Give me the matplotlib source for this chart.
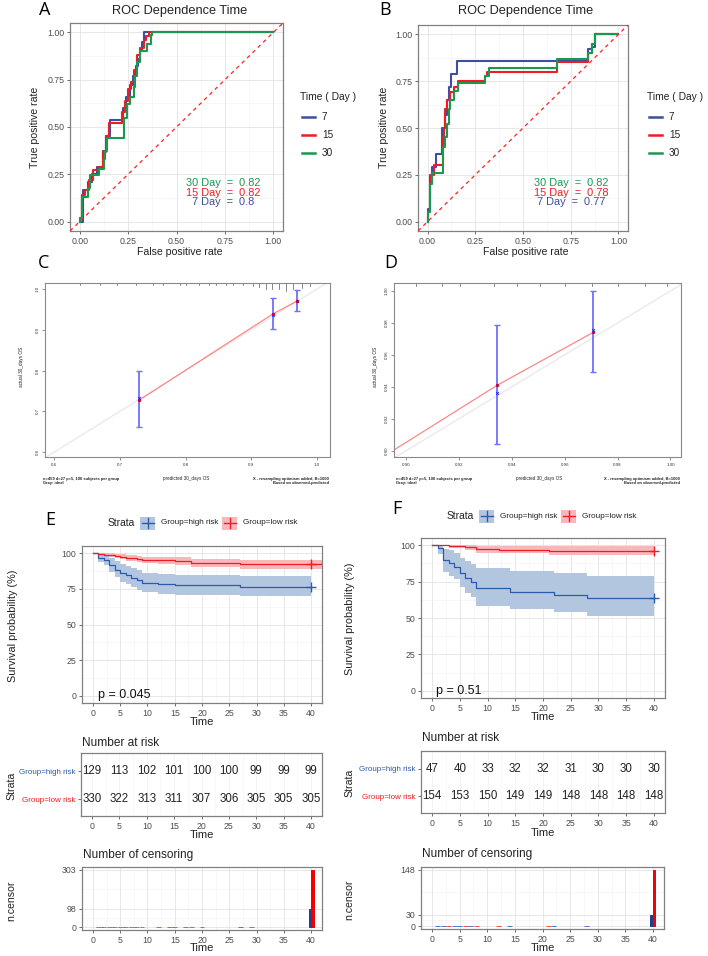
import numpy as np
import matplotlib
matplotlib.use('Agg')
import matplotlib.pyplot as plt
from matplotlib.patches import Rectangle
import matplotlib.transforms as mtrans

plt.rcParams['font.family'] = ['Liberation Sans', 'DejaVu Sans']

# ---------------- DATA ----------------
# ROC panel A (training)
A_blue_fpr = [0, 0.018, 0.045, 0.065, 0.09, 0.12, 0.138, 0.155, 0.225, 0.24, 0.26, 0.275, 0.29, 0.30, 0.31, 0.32, 0.334, 1.0]
A_blue_tpr = [0, 0.165, 0.21, 0.25, 0.29, 0.375, 0.455, 0.535, 0.60, 0.66, 0.72, 0.77, 0.82, 0.86, 0.90, 0.95, 1.0, 1.0]
A_red_fpr = [0, 0, 0.01, 0.03, 0.05, 0.07, 0.10, 0.12, 0.135, 0.15, 0.22, 0.235, 0.25, 0.265, 0.28, 0.295, 0.31, 0.33, 0.345, 0.36, 1.0]
A_red_tpr = [0, 0.02, 0.14, 0.165, 0.22, 0.27, 0.29, 0.37, 0.45, 0.52, 0.58, 0.64, 0.70, 0.74, 0.80, 0.88, 0.92, 0.96, 0.98, 1.0, 1.0]
A_green_fpr = [0, 0, 0.012, 0.041, 0.055, 0.098, 0.124, 0.133, 0.141, 0.228, 0.245, 0.262, 0.279, 0.288, 0.297, 0.314, 0.348, 0.366, 0.374, 1.0]
A_green_tpr = [0, 0.02, 0.13, 0.18, 0.245, 0.28, 0.33, 0.375, 0.44, 0.545, 0.62, 0.66, 0.71, 0.77, 0.845, 0.90, 0.94, 0.985, 1.0, 1.0]
A_auc = {'7': '0.8', '15': '0.82', '30': '0.82'}

# ROC panel B (validation)
B_blue_fpr = [0, 0, 0.015, 0.025, 0.043, 0.078, 0.09, 0.10, 0.11, 0.122, 0.153, 0.84, 0.86, 0.875, 1.0]
B_blue_tpr = [0, 0.07, 0.25, 0.29, 0.36, 0.50, 0.57, 0.65, 0.72, 0.79, 0.86, 0.92, 0.93, 1.0, 1.0]
B_red_fpr = [0, 0, 0.012, 0.02, 0.035, 0.08, 0.085, 0.09, 0.10, 0.12, 0.14, 0.16, 0.30, 0.31, 0.68, 0.84, 0.86, 0.875, 1.0]
B_red_tpr = [0, 0.05, 0.20, 0.25, 0.30, 0.45, 0.50, 0.60, 0.65, 0.69, 0.72, 0.75, 0.78, 0.80, 0.85, 0.90, 0.95, 1.0, 1.0]
B_green_fpr = [0, 0, 0.015, 0.025, 0.08, 0.09, 0.10, 0.11, 0.12, 0.14, 0.16, 0.30, 0.32, 0.68, 0.84, 0.86, 0.875, 1.0]
B_green_tpr = [0, 0.05, 0.20, 0.26, 0.40, 0.45, 0.52, 0.60, 0.65, 0.70, 0.74, 0.78, 0.82, 0.87, 0.90, 0.95, 1.0, 1.0]
B_auc = {'7': '0.77', '15': '0.78', '30': '0.82'}

roc_days = ['7', '15', '30']

# Calibration C
C_pred = [0.7288, 0.933, 0.970]
C_obs = [0.727, 0.939, 0.971]
C_corr = [0.732, 0.936, 0.972]
C_lo = [0.661, 0.902, 0.947]
C_hi = [0.800, 0.978, 0.998]
C_rug_x = [0.639, 0.67, 0.695, 0.725, 0.75, 0.766, 0.791, 0.801, 0.821, 0.836, 0.847, 0.862, 0.872,
           0.887, 0.902, 0.912, 0.922, 0.932, 0.942, 0.953, 0.963, 0.978, 0.990]
C_rug_n = [1, 1, 1, 1, 1, 1, 1, 1, 1, 1, 1, 1, 1, 1, 2, 3, 5, 5, 5, 6, 5, 4, 2]
C_xticks = [0.6, 0.7, 0.8, 0.9, 1.0]
C_yticks = [0.6, 0.7, 0.8, 0.9, 1.0]

# Calibration D
D_pred = [0.9345, 0.9707]
D_obs = [0.941, 0.974]
D_corr = [0.936, 0.9757]
D_lo = [0.904, 0.949]
D_hi = [0.979, 1.000]
D_line_x = [0.8955, 0.9345, 0.9707]
D_line_y = [0.9005, 0.941, 0.974]
D_rug_x = [0.9037, 0.9134, 0.9205, 0.9334, 0.9419, 0.9506, 0.9602, 0.9703, 0.9802, 0.9903, 0.9986]
D_rug_n = [2, 2, 2, 2, 2, 2, 2, 2, 2, 2, 2]
D_xticks = [0.90, 0.92, 0.94, 0.96, 0.98, 1.00]
D_yticks = [0.90, 0.92, 0.94, 0.96, 0.98, 1.00]

cal_left_text = "n=459 d=27 p=5, 100 subjects per group\nGray: ideal"
cal_mid_text = "predicted 30_days OS"
cal_right_text = "X - resampling optimism added, B=1000\nBased on observed-predicted"
cal_ylabel = "actual 30_days OS"

# Kaplan-Meier E
E_high_t = [0, 1, 2, 3, 4, 5, 6, 7, 8, 9, 12, 15, 27]
E_high_s = [100, 96.9, 95.3, 91.5, 88.4, 86.0, 84.5, 82.9, 81.4, 79.1, 78.3, 77.5, 76.6]
E_high_up = [100, 100, 99.5, 96.5, 94.5, 92.5, 91.0, 89.5, 88.0, 86.3, 85.7, 85.0, 84.3]
E_high_lo = [100, 93.5, 91.5, 86.5, 83.0, 80.0, 78.5, 76.5, 74.5, 72.5, 71.7, 71.0, 69.8]
E_high_end = 40
E_low_t = [0, 1, 2, 3, 4, 5, 6, 7, 8, 9, 12, 15, 18, 27]
E_low_s = [100, 99.7, 99.0, 98.5, 97.9, 97.5, 96.8, 96.3, 95.8, 95.2, 94.9, 94.3, 93.2, 92.3]
E_low_up = [100, 100, 100, 99.8, 99.5, 99.2, 98.8, 98.4, 98.0, 97.6, 97.4, 97.0, 96.2, 95.4]
E_low_lo = [100, 99.1, 98.0, 97.2, 96.3, 95.8, 94.8, 94.2, 93.6, 92.8, 92.4, 91.6, 90.3, 89.2]
E_low_end = 42
E_p = "p = 0.045"

# Kaplan-Meier F
F_high_t = [0, 1, 2, 3, 4, 5, 6, 7, 8, 14, 22, 28]
F_high_s = [100, 98.0, 89.9, 87.7, 85.4, 81.0, 77.2, 74.9, 70.3, 68.1, 65.9, 63.8]
F_high_up = [100, 100, 97.5, 96.5, 94.5, 91.5, 89.0, 87.0, 84.5, 82.5, 80.7, 79.2]
F_high_lo = [100, 94.0, 81.5, 79.0, 76.5, 71.5, 67.0, 64.5, 58.5, 56.5, 54.0, 51.6]
F_high_end = 40
F_low_t = [0, 3, 6, 8, 12, 21]
F_low_s = [100, 99.4, 98.7, 97.5, 97.0, 96.3]
F_low_up = [100, 100, 100, 99.8, 99.6, 99.2]
F_low_lo = [100, 98.2, 97.0, 95.0, 94.5, 93.3]
F_low_end = 40
F_p = "p = 0.51"

groups = ['Group=high risk', 'Group=low risk']
risk_times = [0, 5, 10, 15, 20, 25, 30, 35, 40]
E_risk_high = [129, 113, 102, 101, 100, 100, 99, 99, 99]
E_risk_low = [330, 322, 313, 311, 307, 306, 305, 305, 305]
F_risk_high = [47, 40, 33, 32, 32, 31, 30, 30, 30]
F_risk_low = [154, 153, 150, 149, 149, 148, 148, 148, 148]

E_cens_high_t = [1, 2, 3, 4, 5, 6, 7, 8, 9, 15, 27, 40]
E_cens_high_n = [1, 1, 1, 1, 1, 1, 1, 1, 1, 1, 1, 98]
E_cens_low_t = [1, 2, 3, 4, 5, 6, 7, 8, 9, 12, 14, 15, 17, 18, 20, 29, 40]
E_cens_low_n = [1, 1, 1, 1, 1, 1, 1, 1, 1, 1, 1, 1, 1, 1, 1, 1, 303]
F_cens_high_t = [1, 2, 4, 5, 7, 14, 22, 28, 40]
F_cens_high_n = [1, 1, 1, 1, 1, 1, 1, 1, 30]
F_cens_low_t = [3, 6, 8, 12, 21, 40]
F_cens_low_n = [1, 1, 1, 1, 1, 148]
E_cens_ticks = [0, 98, 303]
F_cens_ticks = [0, 30, 148]

# ---------------- STYLE ----------------
ROC_COL = {'7': '#3D4FA1', '15': '#EE1C25', '30': '#1A9850'}
KM_BLUE = '#2A5CAA'
KM_RED = '#EE1C25'
KM_BLUE_F = '#B3C6E0'
KM_RED_F = '#F8B8BA'
CENS_BLUE = '#1E3F8F'
GRAY_TXT = '#4d4d4d'

W, H = 708, 956
fig = plt.figure(figsize=(W / 100, H / 100), dpi=100)


def axpx(l, t, r, b):
    return fig.add_axes([l / W, 1 - b / H, (r - l) / W, (b - t) / H])


ov = fig.add_axes([0, 0, 1, 1], zorder=10)
ov.set_xlim(0, W)
ov.set_ylim(H, 0)
ov.axis('off')


def T(x, y, s, **kw):
    kw.setdefault('ha', 'center')
    kw.setdefault('va', 'center')
    ov.text(x, y, s, **kw)


def style_gg(ax, xmaj, ymaj, xmin=None, ymin=None, grid=True):
    ax.set_facecolor('white')
    for s in ax.spines.values():
        s.set_color('#808080')
        s.set_linewidth(0.9)
    ax.set_xticks(xmaj)
    ax.set_yticks(ymaj)
    if xmin is not None:
        ax.set_xticks(xmin, minor=True)
    if ymin is not None:
        ax.set_yticks(ymin, minor=True)
    if grid:
        ax.grid(True, which='major', color='#e3e3e3', lw=0.6)
        ax.grid(True, which='minor', color='#f1f1f1', lw=0.4)
    ax.set_axisbelow(True)
    ax.tick_params(which='major', length=2.5, width=0.6, color='#555555',
                   labelsize=6.3, labelcolor=GRAY_TXT, pad=1.5)
    ax.tick_params(which='minor', length=0)


# ---------------- ROC ----------------
def roc_panel(box, curves, auc, letter, lpos, leg_x, auc_x, ylab_x):
    ax = axpx(*box)
    for d in roc_days:
        fpr, tpr = curves[d]
        ax.step(fpr, tpr, where='post', color=ROC_COL[d], lw=1.5, zorder=3)
    ax.axline((0, 0), (1, 1), color='#FF2020', ls=(0, (3, 3)), lw=0.9, zorder=4)
    ax.set_xlim(-0.05, 1.05)
    ax.set_ylim(-0.05, 1.05)
    tk = [0, 0.25, 0.5, 0.75, 1.0]
    style_gg(ax, tk, tk, [0.125, 0.375, 0.625, 0.875], [0.125, 0.375, 0.625, 0.875])
    ax.set_xticklabels(['%.2f' % v for v in tk])
    ax.set_yticklabels(['%.2f' % v for v in tk])
    l, t, r, b = box
    cx = (l + r) / 2
    T(lpos[0], lpos[1], letter, fontsize=13, family=['Open Sans', 'DejaVu Sans'])
    T(cx + 3, 11, 'ROC Dependence Time', fontsize=9.2, color='#222222')
    T(cx + 3, 252, 'False positive rate', fontsize=7.6, color='#222222')
    T(ylab_x, 127, 'True positive rate', fontsize=7.6, rotation=90, color='#222222')
    # legend
    T(leg_x, 97, 'Time ( Day )', ha='left', fontsize=7.4, color='#222222')
    for i, d in enumerate(roc_days):
        y = 117 + 18 * i
        ov.plot([leg_x + 2, leg_x + 15], [y, y], color=ROC_COL[d], lw=1.8)
        T(leg_x + 22, y, d, ha='left', fontsize=7.2, color='#222222')
    for i, d in enumerate(['30', '15', '7']):
        T(auc_x, 183 + 9.6 * i, '%s Day  =  %s' % (d, auc[d]), fontsize=7.9, color=ROC_COL[d])


roc_panel((70, 23, 283, 231),
          {'7': (A_blue_fpr, A_blue_tpr), '15': (A_red_fpr, A_red_tpr), '30': (A_green_fpr, A_green_tpr)},
          A_auc, 'A', (45, 10), 300, 223, 35)
roc_panel((418, 25, 628, 231),
          {'7': (B_blue_fpr, B_blue_tpr), '15': (B_red_fpr, B_red_tpr), '30': (B_green_fpr, B_green_tpr)},
          B_auc, 'B', (385, 10), 647, 571, 384)


# ---------------- CALIBRATION ----------------
def cal_panel(box, xlim, ylim, pred, obs, corr, lo, hi, lx, ly, rug_x, rug_n, xt, yt, fmt,
              letter, lpos, ylab_x, txt_x):
    ax = axpx(*box)
    ax.set_xlim(*xlim)
    ax.set_ylim(*ylim)
    ax.plot([0, 1.2], [0, 1.2], color='#e6e6e6', lw=0.8, zorder=1)
    ax.plot(lx, ly, color='#FF7A7A', lw=0.8, zorder=2)
    ax.errorbar(pred, obs, yerr=[np.array(obs) - np.array(lo), np.array(hi) - np.array(obs)],
                fmt='none', ecolor='#7070FF', elinewidth=1.3, capsize=2.2, capthick=1.0, zorder=3)
    ax.plot(pred, corr, ls='none', marker='x', ms=2, mew=0.7, color='#3030FF', zorder=4)
    ax.plot(pred, obs, ls='none', marker='o', ms=1.4, color='#CC0033', zorder=5)
    axh = box[3] - box[1]
    tr = mtrans.blended_transform_factory(ax.transData, ax.transAxes)
    for v, n in zip(rug_x, rug_n):
        h = (0.4 + 1.2 * n) / axh
        ax.plot([v, v], [1, 1 - h], color='#555555', lw=0.5, transform=tr)
    for s in ax.spines.values():
        s.set_color('#8a8a8a')
        s.set_linewidth(0.8)
    ax.set_xticks(xt)
    ax.set_yticks(yt)
    ax.set_xticklabels([fmt % v for v in xt])
    ax.set_yticklabels([fmt % v for v in yt], rotation=90, va='center')
    ax.tick_params(direction='out', length=2.5, width=0.5, labelsize=3.2, pad=1.5,
                   color='#666666', labelcolor='#333333')
    l, t, r, b = box
    T(lpos[0], lpos[1], letter, fontsize=13, family=['Open Sans', 'DejaVu Sans'])
    T(ylab_x, (t + b) / 2 - 3, cal_ylabel, fontsize=3.4, rotation=90, color='#222222')
    T(txt_x[0], 481, cal_left_text, ha='left', fontsize=2.9, weight='bold', color='#222222',
      linespacing=1.1)
    T(txt_x[1], 478, cal_mid_text, fontsize=3.3, color='#222222')
    T(txt_x[2], 481, cal_right_text, ha='right', fontsize=2.9, weight='bold', color='#222222',
      linespacing=1.1, multialignment='right')


cal_panel((45, 283, 330, 457), (0.586, 1.02), (0.588, 1.015), C_pred, C_obs, C_corr, C_lo, C_hi,
          C_pred, C_obs, C_rug_x, C_rug_n, C_xticks, C_yticks, '%.1f', 'C', (44, 263), 22,
          (43, 186, 329))
cal_panel((394, 283, 681, 457), (0.8954, 1.004), (0.896, 1.005), D_pred, D_obs, D_corr, D_lo, D_hi,
          D_line_x, D_line_y, D_rug_x, D_rug_n, D_xticks, D_yticks, '%.2f', 'D', (391, 263), 376,
          (396, 539, 680))


# ---------------- KAPLAN-MEIER ----------------
def km_curve(ax, t, s, lo, up, tend, col, fcol):
    tt = list(t) + [tend]
    ax.fill_between(tt, list(lo) + [lo[-1]], list(up) + [up[-1]], step='post', color=fcol, lw=0, zorder=2)
    ax.step(tt, list(s) + [s[-1]], where='post', color=col, lw=0.9, zorder=3)
    ax.plot([40], [s[-1]], marker='+', ms=7, mew=1.0, color=col, zorder=4)


def km_panel(box, high, low, ptxt, letter, lpos, leg_y, leg_x0, ylab_x, time_y, p_x, p_y):
    ax = axpx(*box)
    km_curve(ax, *high, KM_BLUE, KM_BLUE_F)
    km_curve(ax, *low, KM_RED, KM_RED_F)
    ax.set_xlim(-2, 42)
    ax.set_ylim(-5, 105)
    style_gg(ax, risk_times, [0, 25, 50, 75, 100], np.arange(2.5, 42, 5), [12.5, 37.5, 62.5, 87.5])
    l, t, r, b = box
    T(lpos[0], lpos[1], letter, fontsize=13, family=['Open Sans', 'DejaVu Sans'])
    T(ylab_x, (t + b) / 2 + 1, 'Survival probability (%)', fontsize=7.8, rotation=90, color='#222222')
    T((l + r) / 2, time_y, 'Time', fontsize=8, color='#222222')
    T(p_x, p_y, ptxt, ha='left', fontsize=9, color='#111111')
    # legend
    x0 = leg_x0
    T(x0, leg_y, 'Strata', ha='left', fontsize=7.4, color='#222222')
    for kx, col, fcol, lab in [(x0 + 32, KM_BLUE, KM_BLUE_F, groups[0]),
                               (x0 + 114, KM_RED, KM_RED_F, groups[1])]:
        ov.add_patch(Rectangle((kx, leg_y - 6.5), 15, 13, color=fcol, lw=0))
        ov.plot([kx + 1.5, kx + 13.5], [leg_y, leg_y], color=col, lw=1.0)
        ov.plot([kx + 7.5, kx + 7.5], [leg_y - 5, leg_y + 5], color=col, lw=1.0)
        T(kx + 21, leg_y, lab, ha='left', fontsize=5.9, color='#222222')


km_panel((82, 546, 322, 703),
         (E_high_t, E_high_s, E_high_lo, E_high_up, E_high_end),
         (E_low_t, E_low_s, E_low_lo, E_low_up, E_low_end),
         E_p, 'E', (50, 520), 523, 108, 13, 722, 98, 695)
km_panel((421, 538, 665, 698),
         (F_high_t, F_high_s, F_high_lo, F_high_up, F_high_end),
         (F_low_t, F_low_s, F_low_lo, F_low_up, F_low_end),
         F_p, 'F', (397, 509), 516, 447, 350, 717, 436, 691)


# ---------------- RISK TABLE ----------------
def risk_panel(box, rh, rl, title_y, ylab_x, time_y):
    ax = axpx(*box)
    ax.set_xlim(-2, 42)
    ax.set_ylim(0.4, 2.65)
    style_gg(ax, risk_times, [1, 2], np.arange(2.5, 42, 5), None, grid=False)
    ax.grid(True, axis='x', which='major', color='#eeeeee', lw=0.5)
    ax.grid(True, axis='x', which='minor', color='#f6f6f6', lw=0.4)
    ax.set_yticklabels([groups[1], groups[0]], fontsize=5.8)
    ax.get_yticklabels()[0].set_color(KM_RED)
    ax.get_yticklabels()[1].set_color(KM_BLUE)
    for tm, a, b2 in zip(risk_times, rh, rl):
        ax.text(tm, 2, str(a), ha='center', va='center', fontsize=8.3, color='#222222')
        ax.text(tm, 1, str(b2), ha='center', va='center', fontsize=8.3, color='#222222')
    l, t, r, b = box
    T(l + 1, title_y, 'Number at risk', ha='left', fontsize=8.6, color='#222222')
    T(ylab_x, (t + b) / 2 + 1, 'Strata', fontsize=7.6, rotation=90, color='#222222')
    T((l + r) / 2, time_y, 'Time', fontsize=8, color='#222222')


risk_panel((81, 753, 322, 816), E_risk_high, E_risk_low, 743, 11, 835)
risk_panel((421, 751, 665, 813), F_risk_high, F_risk_low, 738, 349, 833)


# ---------------- CENSORING ----------------
def cens_panel(box, ht, hn, lt, ln, yt, title_y, ylab_x, time_y):
    ax = axpx(*box)
    times = sorted(set(ht) | set(lt))
    for tm in times:
        grp = []
        if tm in ht:
            grp.append((hn[ht.index(tm)], CENS_BLUE if hn[ht.index(tm)] > 5 else '#4A78C0'))
        if tm in lt:
            grp.append((ln[lt.index(tm)], '#F00000' if ln[lt.index(tm)] > 5 else '#F05050'))
        w = 0.9 / len(grp)
        for i, (cnt, col) in enumerate(grp):
            x = tm - 0.45 + w * (i + 0.5)
            ax.bar(x, cnt, width=w, color=col, edgecolor=col, lw=0.7, zorder=3)
    ax.set_xlim(-2, 42)
    ax.set_ylim(-0.05 * yt[-1], 1.05 * yt[-1])
    ymin = [(yt[0] + yt[1]) / 2, (yt[1] + yt[2]) / 2]
    style_gg(ax, risk_times, yt, np.arange(2.5, 42, 5), ymin)
    ax.set_yticklabels([str(v) for v in yt])
    l, t, r, b = box
    T(l + 1, title_y, 'Number of censoring', ha='left', fontsize=8.6, color='#222222')
    T(ylab_x, (t + b) / 2 + 2, 'n.censor', fontsize=7.6, rotation=90, color='#222222')
    T((l + r) / 2, time_y, 'Time', fontsize=8, color='#222222')


cens_panel((82, 867, 322, 930), E_cens_high_t, E_cens_high_n, E_cens_low_t, E_cens_low_n,
           E_cens_ticks, 855, 11, 948)
cens_panel((421, 867, 664, 929), F_cens_high_t, F_cens_high_n, F_cens_low_t, F_cens_low_n,
           F_cens_ticks, 854, 349, 948)

fig.savefig('out.png', dpi=100)
